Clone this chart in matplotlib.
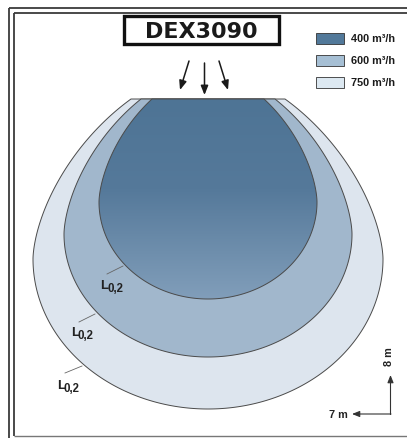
import numpy as np
import matplotlib
matplotlib.use("Agg")
import matplotlib.pyplot as plt
from matplotlib.patches import Polygon, Rectangle
from matplotlib.colors import LinearSegmentedColormap

# ---- data (diagram units, 1 unit = 1 px of the drawing) ----
flows = ["400 m³/h", "600 m³/h", "750 m³/h"]
fill_colors = ["#52789A", "#A1B7CC", "#DDE5EE"]
legend_colors = ["#52799A", "#A6BFD4", "#DCE8F1"]
half_width = [109, 144, 175]       # max half width of each throw zone
widest_depth = [203, 235, 260]     # depth where the zone is widest
bottom_depth = [300, 358, 410]     # deepest point of the zone
top_half_width = [56, 67, 77]      # half width at the unit outlet line
label_text = "L"
label_sub = "0,2"
unit_name = "DEX3090"
scale_labels = ["7 m", "8 m"]

W, H = 407, 439
CX = 208
TOP = 100
P_UP = 1.65

fig = plt.figure(figsize=(W / 100, H / 100), dpi=100)
ax = fig.add_axes([0, 0, 1, 1])
ax.set_xlim(0, W)
ax.set_ylim(H, 0)
ax.axis("off")

FONT = "Liberation Sans"


def outline(a, cy, yb, ht):
    # upper part: superellipse that passes through (ht, TOP)
    dy_top = cy - TOP
    rest = 1 - (ht / a) ** P_UP
    b_up = dy_top / rest ** (1 / P_UP)
    yu = np.linspace(TOP, cy, 300)
    xu = a * np.clip(1 - (np.abs(yu - cy) / b_up) ** P_UP, 0, 1) ** (1 / P_UP)
    t = np.linspace(0, np.pi / 2, 300)
    xl = a * np.cos(t)
    yl = cy + (yb - cy) * np.sin(t)
    xr = np.concatenate([xu, xl])
    yr = np.concatenate([yu, yl])
    xs = np.concatenate([CX + xr, (CX - xr)[::-1]])
    ys = np.concatenate([yr, yr[::-1]])
    return np.column_stack([xs, ys])


# frame lines
lc = "#3a3a3a"
ax.plot([8.5, 8.5], [8.5, H + 5], color=lc, lw=1.3, solid_capstyle="butt")
ax.plot([8.5, W + 5], [8.5, 8.5], color=lc, lw=1.3, solid_capstyle="butt")
ax.plot([13.8, 13.8], [13.8, 437.3], color=lc, lw=1.3, solid_capstyle="butt")
ax.plot([13.8, W + 5], [13.8, 13.8], color=lc, lw=1.3, solid_capstyle="butt")
ax.plot([13.8, W + 5], [437.3, 437.3], color="#777777", lw=1.0, solid_capstyle="butt")

# zones, largest first
for i in [2, 1, 0]:
    pts = outline(half_width[i], widest_depth[i], bottom_depth[i], top_half_width[i])
    if i == 0:
        poly = Polygon(pts, closed=True, facecolor="none", edgecolor="#4a4a4a", lw=0.7, zorder=3)
        ax.add_patch(poly)
        cmap = LinearSegmentedColormap.from_list(
            "g", [(0, "#4E7495"), (0.45, "#55799A"), (1, "#819EBA")])
        grad = np.linspace(0, 1, 256).reshape(-1, 1)
        im = ax.imshow(grad, cmap=cmap, aspect="auto",
                       extent=[CX - half_width[0], CX + half_width[0], bottom_depth[0], TOP],
                       zorder=2, interpolation="bilinear")
        clip = Polygon(pts, closed=True, transform=ax.transData)
        im.set_clip_path(clip)
    else:
        poly = Polygon(pts, closed=True, facecolor=fill_colors[i], edgecolor="#4a4a4a",
                       lw=0.7, zorder=1 + (2 - i) * 0.1)
        ax.add_patch(poly)

ax.set_xlim(0, W)
ax.set_ylim(H, 0)

# unit box
ax.add_patch(Rectangle((124, 17), 155, 28, facecolor="white", edgecolor="#111111", lw=2.4, zorder=5))
ax.text(201.5, 31.5, unit_name, ha="center", va="center", fontsize=16, fontweight="black",
        family="DejaVu Sans", color="#1a1a1a", zorder=6)

# air arrows
for (x0, y0, x1, y1) in [(189, 62, 180, 91), (204.5, 64, 204.5, 96), (219, 62, 228, 91)]:
    ax.annotate("", xy=(x1, y1), xytext=(x0, y0),
                arrowprops=dict(arrowstyle="-|>,head_length=0.55,head_width=0.22",
                                color="#1a1a1a", lw=1.1, shrinkA=0, shrinkB=0), zorder=6)

# legend
leg_y = [39, 61, 83]
for i in range(3):
    ax.add_patch(Rectangle((316, leg_y[i] - 5.5), 28, 11, facecolor=legend_colors[i],
                           edgecolor="#333333", lw=0.6, zorder=5))
    ax.text(351, leg_y[i], flows[i], ha="left", va="center", fontsize=7.8,
            fontweight="bold", family=FONT, color="#1a1a1a", zorder=6)

# L0,2 labels with leader lines
labels = [((107, 275), (123, 267), (100, 286)),
          ((79, 323), (95, 315), (71, 333)),
          ((65, 374), (82, 367), (57, 386))]
for (p0, p1, tp) in labels:
    ax.plot([p0[0], p1[0]], [p0[1], p1[1]], color="#666666", lw=0.6, zorder=6)
    ax.text(tp[0], tp[1], label_text, ha="left", va="center", fontsize=9.5,
            fontweight="bold", family=FONT, color="#222222", zorder=6)
    ax.text(tp[0] + 7, tp[1] + 3, label_sub, ha="left", va="center", fontsize=8.3,
            fontweight="bold", family=FONT, color="#222222", zorder=6)

# scale arrows
ax.annotate("", xy=(390.5, 376), xytext=(390.5, 415.5),
            arrowprops=dict(arrowstyle="-|>,head_length=0.45,head_width=0.18",
                            color="#333333", lw=0.8, shrinkA=0, shrinkB=0), zorder=6)
ax.annotate("", xy=(352, 415), xytext=(391, 415),
            arrowprops=dict(arrowstyle="-|>,head_length=0.45,head_width=0.18",
                            color="#333333", lw=0.8, shrinkA=0, shrinkB=0), zorder=6)
ax.text(338, 415, scale_labels[0], ha="center", va="center", fontsize=7.8,
        fontweight="bold", family=FONT, color="#222222")
ax.text(389, 357, scale_labels[1], ha="center", va="center", fontsize=7.8, rotation=90,
        fontweight="bold", family=FONT, color="#222222")

fig.savefig("out.png", dpi=100)
